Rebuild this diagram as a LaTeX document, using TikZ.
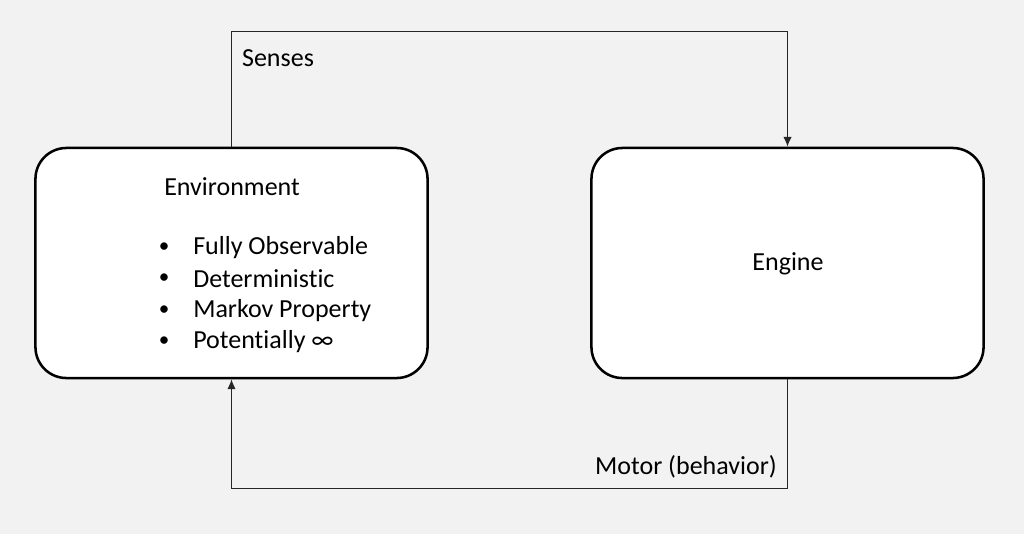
\documentclass[tikz,border=0pt]{standalone}
\usepackage{fontspec}
\setmainfont{Carlito}[Ligatures=NoCommon]
\usepackage{xcolor}
\usepackage{tikz}
\usetikzlibrary{arrows.meta}
\definecolor{mybg}{HTML}{F2F2F2}
\definecolor{myline}{HTML}{262626}
\tikzstyle{box} = [draw=black,fill=white,line width=1.8pt,rounded corners=22pt,minimum width=9.8cm,minimum height=5.75cm]
\tikzstyle{arrow} = [color=myline,line width=0.9pt,-{Latex[length=7pt,width=6pt]}]
\tikzstyle{lbl} = [font=\fontsize{18.5}{22}\selectfont,inner sep=0pt]
\tikzstyle{dot} = [font=\fontsize{15}{18}\selectfont,inner sep=0pt]

\begin{document}
\begin{tikzpicture}[x=0.025cm,y=-0.025cm]
            \fill[mybg] (0,0) rectangle (1024,534);
            \useasboundingbox (0,0) rectangle (1024,534);
            % Boxes
            \draw (231.5,263) node[box] (env) {};
            \draw (787.5,263) node[box] (eng) {};
            \draw (164,187) node[lbl,anchor=west] (envtitle) {Environment};
            \draw (788,264) node[lbl] (engtitle) {Engine};
            % list
            \draw (164,248) node[dot] (d1) {\textbullet};
            \draw (164,279) node[dot] (d2) {\textbullet};
            \draw (164,311) node[dot] (d3) {\textbullet};
            \draw (164,342) node[dot] (d4) {\textbullet};
            \draw (193,248) node[lbl,anchor=west] (b1) {Fully Observable};
            \draw (193,279) node[lbl,anchor=west] (b2) {Deterministic};
            \draw (193,311) node[lbl,anchor=west] (b3) {Markov Property};
            \draw (193,342) node[lbl,anchor=west] (b4) {Potentially ∞};
            % edges
            \draw[arrow] (env.north) -- ++(0,-115) -| (eng.north);
            \draw[arrow] (eng.south) -- ++(0,109) -| (env.south);
            \draw (278,58) node[lbl] (senses) {Senses};
            \draw (686,467) node[lbl] (motor) {Motor (behavior)};
\end{tikzpicture}
\end{document}
